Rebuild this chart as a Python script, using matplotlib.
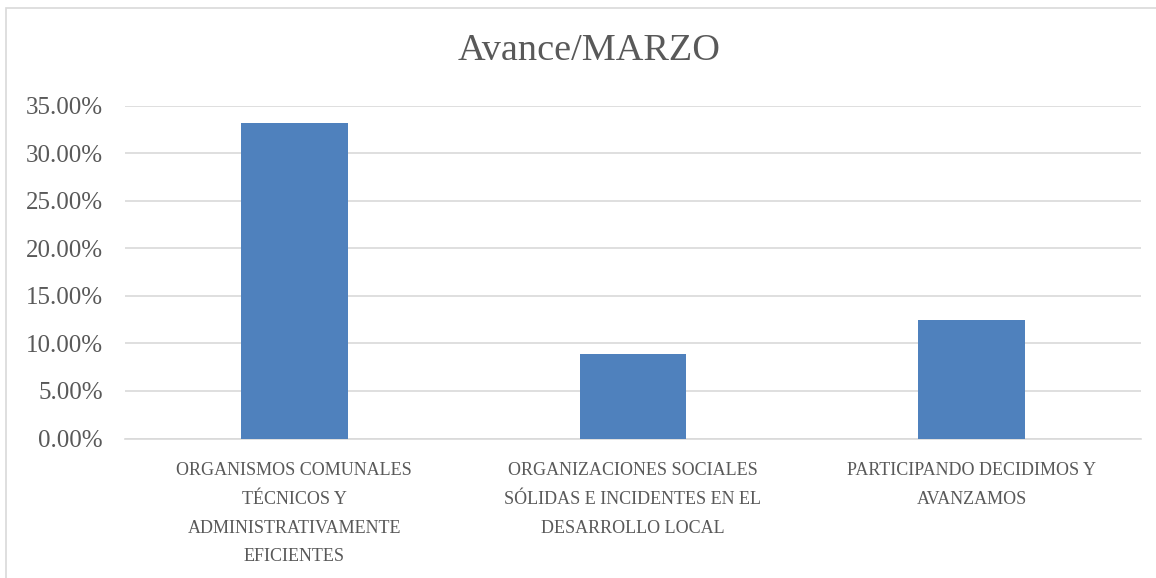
import matplotlib
matplotlib.use("Agg")
import matplotlib.pyplot as plt
from matplotlib.patches import Rectangle
from matplotlib.ticker import FuncFormatter, MultipleLocator

categories = [
    "ORGANISMOS COMUNALES\nTÉCNICOS Y\nADMINISTRATIVAMENTE\nEFICIENTES",
    "ORGANIZACIONES SOCIALES\nSÓLIDAS E INCIDENTES EN EL\nDESARROLLO LOCAL",
    "PARTICIPANDO DECIDIMOS Y\nAVANZAMOS",
]
values = [0.3313, 0.0888, 0.1245]
title = "Avance/MARZO"

font = "Liberation Serif"
txt = "#595959"

W, H = 1156, 578
fig = plt.figure(figsize=(W / 100, H / 100), dpi=100)
fig.patches.append(Rectangle((6 / W, -0.1), 1.2, 1.1 - 8 / H, transform=fig.transFigure,
                             fill=False, edgecolor="#D9D9D9", linewidth=1.2))

ax = fig.add_axes([125 / W, 1 - 438.5 / H, (1141 - 125) / W, (438.5 - 105.5) / H])
x = range(len(categories))
ax.bar(x, values, width=0.314, color="#4F81BD", zorder=3)
ax.set_xlim(-0.5, 2.5)
ax.set_ylim(0, 0.35)
ax.yaxis.set_major_locator(MultipleLocator(0.05))
ax.yaxis.set_major_formatter(FuncFormatter(lambda v, p: f"{v*100:.2f}%"))
ax.grid(axis="y", color="#D9D9D9", linewidth=1.2, zorder=0)
for s in ["top", "right", "left"]:
    ax.spines[s].set_visible(False)
ax.spines["bottom"].set_color("#D9D9D9")
ax.spines["bottom"].set_linewidth(1.2)
ax.tick_params(axis="both", length=0)
ax.tick_params(axis="y", pad=16, labelsize=18, labelcolor=txt)
ax.set_xticks(list(x))
ax.set_xticklabels(categories, fontsize=13, color=txt, linespacing=1.9)
ax.tick_params(axis="x", pad=17)
for lab in ax.get_xticklabels() + ax.get_yticklabels():
    lab.set_family(font)

fig.text(589 / W, 1 - 51 / H, title, ha="center", va="center", fontsize=27.5, color=txt, family=font)

fig.savefig("out.png", dpi=100)
